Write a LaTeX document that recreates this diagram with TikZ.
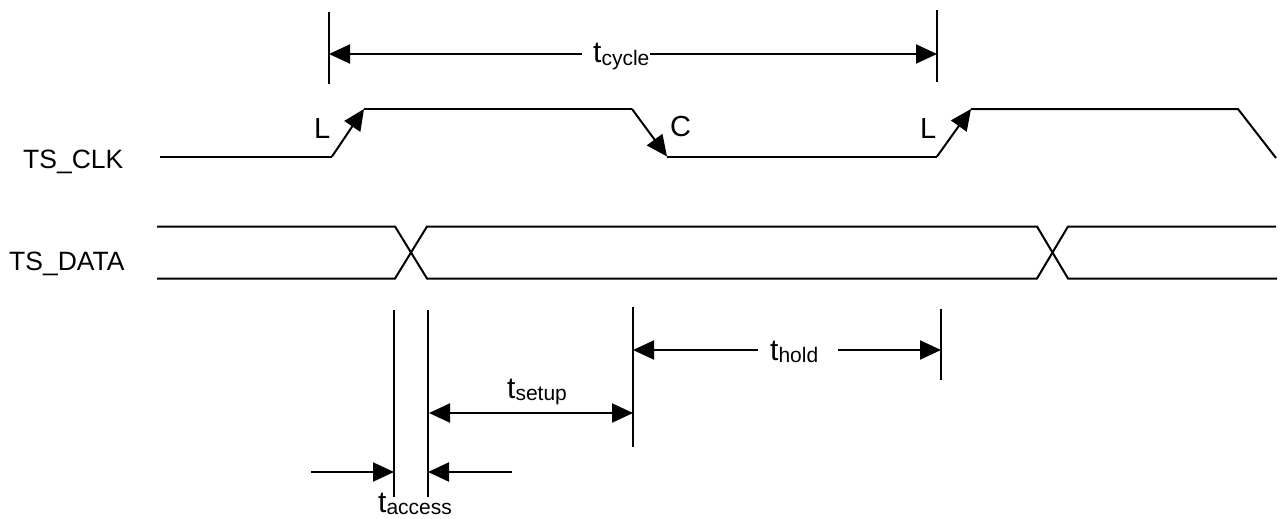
\documentclass[tikz,border=0pt]{standalone}
\usepackage{fontspec}
\setmainfont{Liberation Sans}
\usetikzlibrary{arrows.meta}
\newcommand{\tsub}[1]{{\fontsize{30}{30}\selectfont t}\raisebox{-2.5pt}{\fontsize{21}{21}\selectfont #1}}
\begin{document}
\begin{tikzpicture}[x=1pt,y=-1pt,
  wire/.style={line width=2pt, line join=miter},
  arrowend/.style={wire,-{Triangle[length=21pt,width=19pt]}},
  arrowboth/.style={wire,{Triangle[length=21pt,width=19pt]}-{Triangle[length=21pt,width=19pt]}},
  siglbl/.style={inner sep=0pt, anchor=base west, font=\fontsize{26.5}{26.5}\selectfont},
  edgelbl/.style={inner sep=0pt, anchor=base west, font=\fontsize{29}{29}\selectfont},
  tlbl/.style={inner sep=0pt, anchor=base west}]
\useasboundingbox (0,0) rectangle (1285,519);

% signal names
\node[siglbl] (clkname) at (23,168) {TS\_CLK};
\node[siglbl] (dataname) at (9,270) {TS\_DATA};

% clock waveform
\coordinate (c0) at (160,156.5);
\coordinate (c1) at (332,156.5);
\coordinate (c2) at (364,109);
\coordinate (c3) at (632,109);
\coordinate (c4) at (667,156.5);
\coordinate (c5) at (937,156.5);
\coordinate (c6) at (971,109);
\coordinate (c7) at (1238,109);
\coordinate (c8) at (1276,158);
\draw[wire] (c0) -- (c1);
\draw[arrowend] (c1) -- (c2);
\draw[wire] (c2) -- (c3);
\draw[arrowend] (c3) -- (c4);
\draw[wire] (c4) -- (c5);
\draw[arrowend] (c5) -- (c6);
\draw[wire] (c6) -- (c7) -- (c8);

\node[edgelbl] (L1) at (314,138) {L};
\node[edgelbl] (C1) at (670,136.5) {C};
\node[edgelbl] (L2) at (920,138) {L};

% data waveform
\coordinate (dtl) at (157,226.5);
\coordinate (dbl) at (157,278.5);
\coordinate (x1tl) at (395,226.5);
\coordinate (x1bl) at (395,278.5);
\coordinate (x1tr) at (427,226.5);
\coordinate (x1br) at (427,278.5);
\coordinate (x2tl) at (1037,226.5);
\coordinate (x2bl) at (1037,278.5);
\coordinate (x2tr) at (1068,226.5);
\coordinate (x2br) at (1068,278.5);
\coordinate (dtr) at (1276,226.5);
\coordinate (dbr) at (1277,278.5);
\draw[wire] (dtl) -- (x1tl) -- (x1br) -- (x2bl) -- (x2tr) -- (dtr);
\draw[wire] (dbl) -- (x1bl) -- (x1tr) -- (x2tl) -- (x2br) -- (dbr);

% t_cycle
\coordinate (cycLt) at (329,12);
\coordinate (cycLb) at (329,84);
\coordinate (cycRt) at (937,10);
\coordinate (cycRb) at (937,82);
\coordinate (cycA) at (329,54);
\coordinate (cycB) at (937,54);
\draw[wire] (cycLt) -- (cycLb);
\draw[wire] (cycRt) -- (cycRb);
\node[tlbl] (cyc) at (593,63) {\tsub{cycle}};
\draw[arrowend] ([xshift=-11pt]cyc.west |- cycA) -- (cycA);
\draw[arrowend] (cyc.east |- cycB) -- (cycB);

% t_access
\coordinate (acL1) at (394,310);
\coordinate (acL2) at (394,497);
\coordinate (acR1) at (428,310);
\coordinate (acR2) at (428,497);
\draw[wire] (acL1) -- (acL2);
\draw[wire] (acR1) -- (acR2);
\coordinate (acInL) at (311,472);
\coordinate (acTipL) at (394,472);
\coordinate (acInR) at (512,472);
\coordinate (acTipR) at (428,472);
\draw[arrowend] (acInL) -- (acTipL);
\draw[arrowend] (acInR) -- (acTipR);
\node[tlbl] (acc) at (378,512) {\tsub{access}};

% t_setup
\coordinate (suV1) at (633,307);
\coordinate (suV2) at (633,447);
\draw[wire] (suV1) -- (suV2);
\coordinate (suA) at (429,413);
\coordinate (suB) at (633,413);
\draw[arrowboth] (suA) -- (suB);
\node[tlbl] (setup) at (507,398) {\tsub{setup}};

% t_hold
\coordinate (hoV1) at (941,309);
\coordinate (hoV2) at (941,380);
\draw[wire] (hoV1) -- (hoV2);
\coordinate (hoA) at (633,350);
\coordinate (hoB) at (941,350);
\node[tlbl] (hold) at (770,360) {\tsub{hold}};
\draw[arrowend] ([xshift=-12pt]hold.west |- hoA) -- (hoA);
\draw[arrowend] ([xshift=20pt]hold.east |- hoB) -- (hoB);
\end{tikzpicture}
\end{document}
